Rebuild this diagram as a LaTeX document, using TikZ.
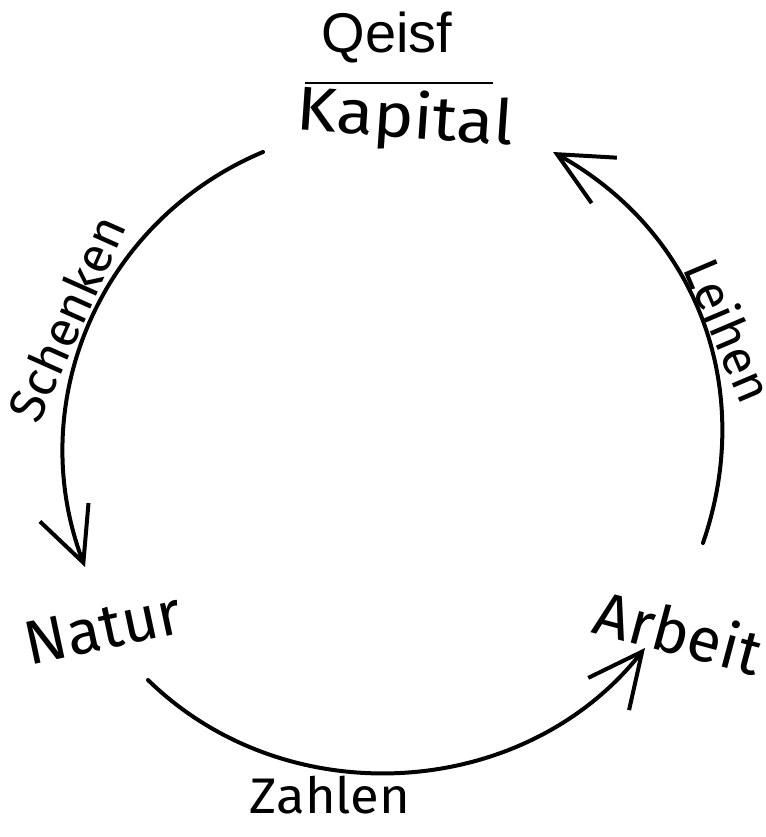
\documentclass[tikz,border=0pt]{standalone}
\usepackage{fontspec}
\setmainfont{Liberation Sans}
\newfontfamily\handfont{Fira Sans}
\usetikzlibrary{arrows.meta}
\tikzset{
  typed/.style = {font=\fontsize{28}{30}\selectfont, inner sep=0pt},
  hand/.style  = {font=\handfont\fontsize{31}{33}\selectfont, inner sep=0pt},
  lbl/.style   = {font=\handfont\fontsize{25}{27}\selectfont, inner sep=0pt},
  flow/.style  = {-{Straight Barb[length=27pt, width=26pt]}, line width=2pt,
                  line cap=round, line join=round},
  bar/.style   = {line width=1.4pt},
}
\begin{document}
\begin{tikzpicture}[x=0.5pt, y=0.5pt]
  \useasboundingbox (0,0) rectangle (766,837);
  % ---- the three stations ----
  \node[typed] (qeisf) at (387,799) {Qeisf};
  \node[hand, rotate=-4, xscale=1.1] (kap) at (405,717) {Kapital};
  \node[hand, rotate=12] (nat) at (103,209) {Natur};
  \node[hand, rotate=-15] (arb) at (679,206) {Arbeit};
  \draw[bar] ([shift={(-100,37)}]kap.center) -- ([shift={(88,37)}]kap.center);

  % ---- the cycle ----
  \draw[flow] ([shift={(-142,-32)}]kap.center) to[bend right=44] ([shift={(-18,61)}]nat.center);
  \draw[flow] ([shift={(45,-52)}]nat.center) to[bend right=48] ([shift={(-34,-17)}]arb.center);
  \draw[flow] ([shift={(24,88)}]arb.center) to[bend right=40] ([shift={(148,-32)}]kap.center);
  \node[lbl, rotate=66] (schenken) at (66,519) {Schenken};
  \node[lbl, rotate=-67] (leihen) at (730,507) {Leihen};
  \node[lbl, xscale=1.05] (zahlen) at (330,42) {Zahlen};
\end{tikzpicture}
\end{document}
